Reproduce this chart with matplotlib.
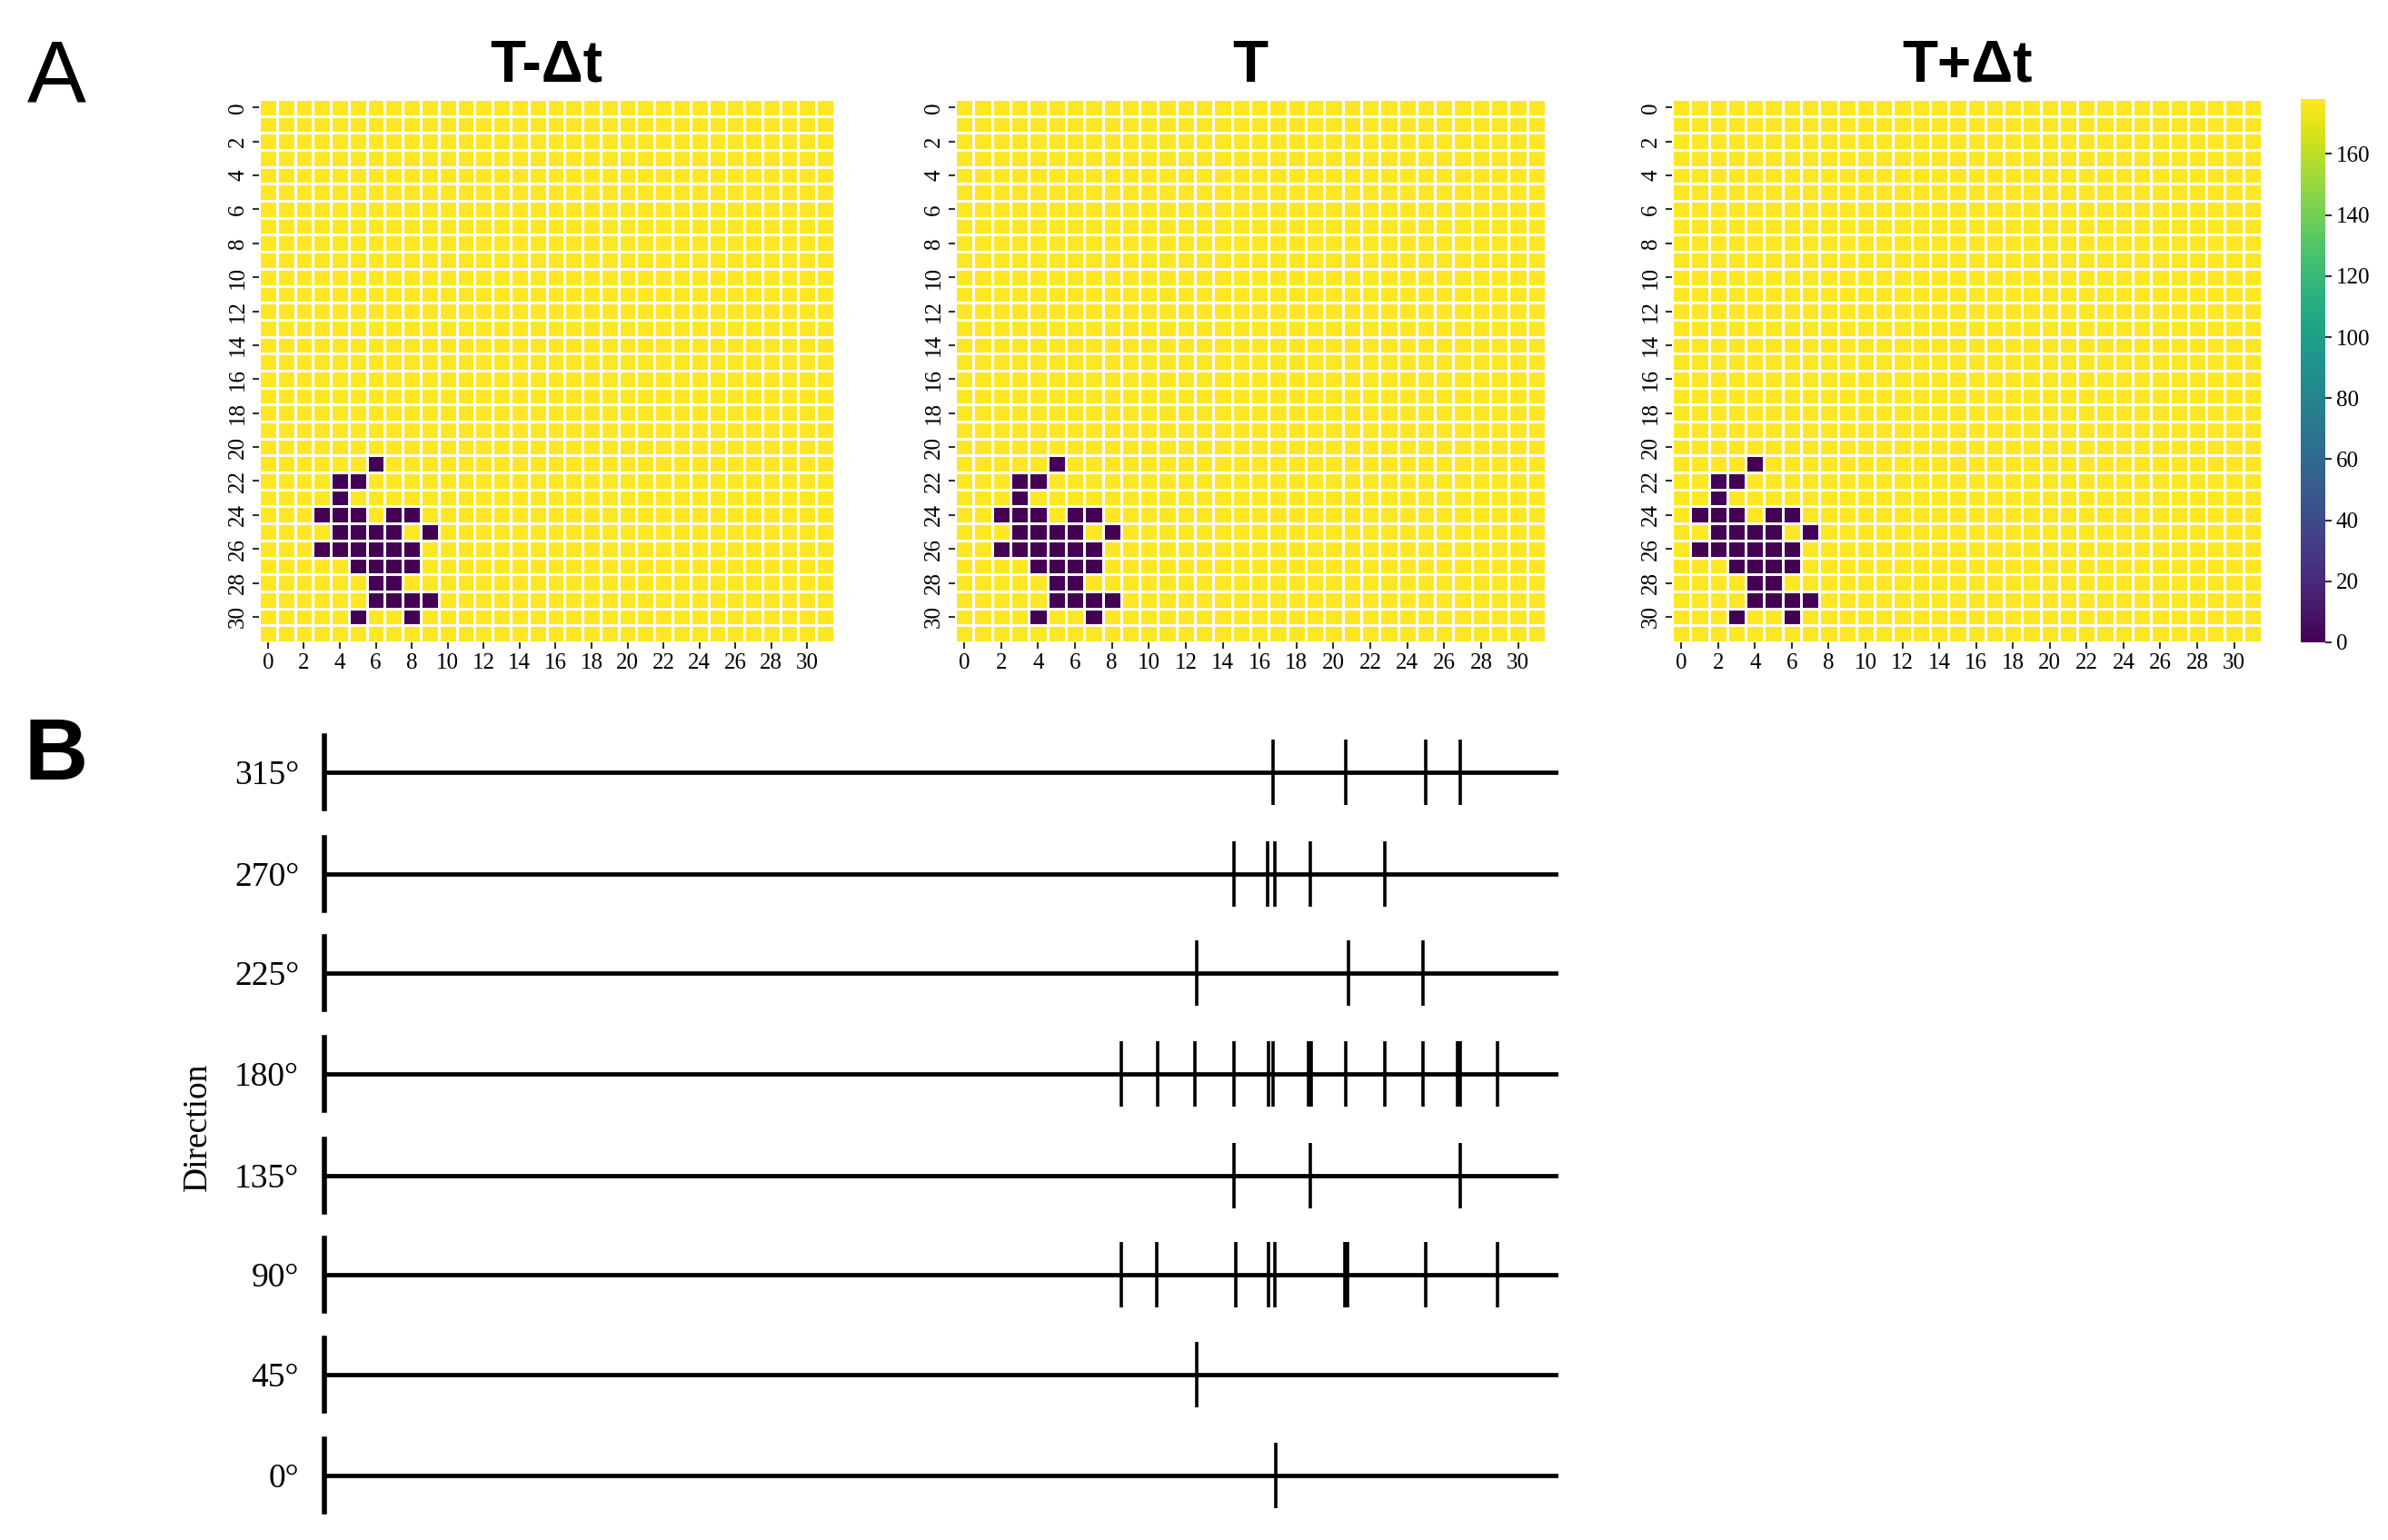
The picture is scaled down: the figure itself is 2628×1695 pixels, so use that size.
import numpy as np
import matplotlib
matplotlib.use("Agg")
import matplotlib.pyplot as plt
import seaborn as sns

# ---- data: panel A, dark (value 0) cells as (row, col) in a 32x32 grid
grid_n = 32
bright_value = 178
frame_titles = ["T-\u0394t", "T", "T+\u0394t"]

dark_prev = [(21, 6), (22, 4), (22, 5), (23, 4),
             (24, 3), (24, 4), (24, 5), (24, 7), (24, 8),
             (25, 4), (25, 5), (25, 6), (25, 7), (25, 9),
             (26, 3), (26, 4), (26, 5), (26, 6), (26, 7), (26, 8),
             (27, 5), (27, 6), (27, 7), (27, 8),
             (28, 6), (28, 7),
             (29, 6), (29, 7), (29, 8), (29, 9),
             (30, 5), (30, 8)]
dark_now = [(21, 5), (22, 3), (22, 4), (23, 3),
            (24, 2), (24, 3), (24, 4), (24, 6), (24, 7),
            (25, 3), (25, 4), (25, 5), (25, 6), (25, 8),
            (26, 2), (26, 3), (26, 4), (26, 5), (26, 6), (26, 7),
            (27, 4), (27, 5), (27, 6), (27, 7),
            (28, 5), (28, 6),
            (29, 5), (29, 6), (29, 7), (29, 8),
            (30, 4), (30, 7)]
dark_next = [(21, 4), (22, 2), (22, 3), (23, 2),
             (24, 1), (24, 2), (24, 3), (24, 5), (24, 6),
             (25, 2), (25, 3), (25, 4), (25, 5), (25, 7),
             (26, 1), (26, 2), (26, 3), (26, 4), (26, 5), (26, 6),
             (27, 3), (27, 4), (27, 5), (27, 6),
             (28, 4), (28, 5),
             (29, 4), (29, 5), (29, 6), (29, 7),
             (30, 3), (30, 6)]
frames = [dark_prev, dark_now, dark_next]

# ---- data: panel B, spike times (ms) per direction
directions = ["315\u00b0", "270\u00b0", "225\u00b0", "180\u00b0",
              "135\u00b0", "90\u00b0", "45\u00b0", "0\u00b0"]
spikes_315 = [251.0, 270.1, 291.2, 300.5]
spikes_270 = [240.6, 249.5, 251.5, 260.9, 280.6]
spikes_225 = [230.7, 270.8, 290.6]
spikes_180 = [210.8, 220.4, 230.2, 240.7, 249.7, 251.0, 260.3, 261.1,
              270.1, 280.4, 290.5, 299.7, 300.5, 310.3]
spikes_135 = [240.6, 260.9, 300.5]
spikes_90 = [210.9, 220.2, 241.1, 249.7, 251.5, 270.0, 270.7, 291.2, 310.4]
spikes_45 = [230.7]
spikes_0 = [251.6]
spike_rows = [spikes_315, spikes_270, spikes_225, spikes_180,
              spikes_135, spikes_90, spikes_45, spikes_0]
t_end = 326.4

# ---- figure
W, H = 2628, 1695
fig = plt.figure(figsize=(W / 100, H / 100), dpi=100)


def box(x0, y0, x1, y1):
    return [x0 / W, 1 - y1 / H, (x1 - x0) / W, (y1 - y0) / H]


serif = "Liberation Serif"
sans = "Liberation Sans"

heat_boxes = [(285, 109, 918, 707), (1051, 109, 1701, 707), (1840, 109, 2489, 707)]
cbar_ax = fig.add_axes(box(2532, 109, 2559, 707))

for i, (cells, title) in enumerate(zip(frames, frame_titles)):
    mat = np.full((grid_n, grid_n), bright_value, dtype=float)
    for r, c in cells:
        mat[r, c] = 0
    ax = fig.add_axes(box(*heat_boxes[i]))
    sns.heatmap(mat, ax=ax, cmap="viridis", vmin=0, vmax=bright_value,
                linewidths=2.0, linecolor="white",
                xticklabels=2, yticklabels=2,
                cbar=(i == 2), cbar_ax=cbar_ax if i == 2 else None)
    ax.set_title(title, fontsize=46, fontweight="bold", family=sans, pad=14)
    for lab in ax.get_xticklabels():
        lab.set_family(serif)
        lab.set_fontsize(18)
        lab.set_rotation(0)
    for lab in ax.get_yticklabels():
        lab.set_family(serif)
        lab.set_fontsize(18)
        lab.set_rotation(90)
        lab.set_va("center")
    ax.tick_params(length=5, width=1.5, color="#333333")

cbar_ax.tick_params(labelsize=18, length=5, width=1.5, color="#333333")
for lab in cbar_ax.get_yticklabels():
    lab.set_family(serif)
cbar_ax.set_frame_on(False)

# ---- panel B
row_y = [850, 962, 1071, 1182, 1294, 1403, 1513, 1624]
for label, times, yc in zip(directions, spike_rows, row_y):
    ax = fig.add_axes(box(357, yc - 40, 1715, yc + 40))
    ax.axhline(0, color="black", lw=3.4)
    ax.eventplot(times, lineoffsets=0, linelengths=1.8, linewidths=2.6, colors="black")
    ax.set_xlim(0, t_end)
    ax.set_ylim(-1, 1)
    for s in ["top", "right", "bottom"]:
        ax.spines[s].set_visible(False)
    ax.spines["left"].set_linewidth(4.0)
    ax.set_xticks([])
    ax.set_yticks([0])
    ax.set_yticklabels([label], family=serif, fontsize=27)
    ax.tick_params(axis="y", length=0, pad=20)
    ax.patch.set_alpha(0)

fig.text(218 / W, 1 - 1240 / H, "Direction", fontsize=27, family=serif,
         rotation=90, ha="center", va="center")
fig.text(62 / W, 1 - 87 / H, "A", fontsize=70, family=sans, ha="center", va="center")
fig.text(62 / W, 1 - 833 / H, "B", fontsize=70, family=sans, fontweight="bold",
         ha="center", va="center")

fig.savefig("out.png", dpi=100, facecolor="white")
